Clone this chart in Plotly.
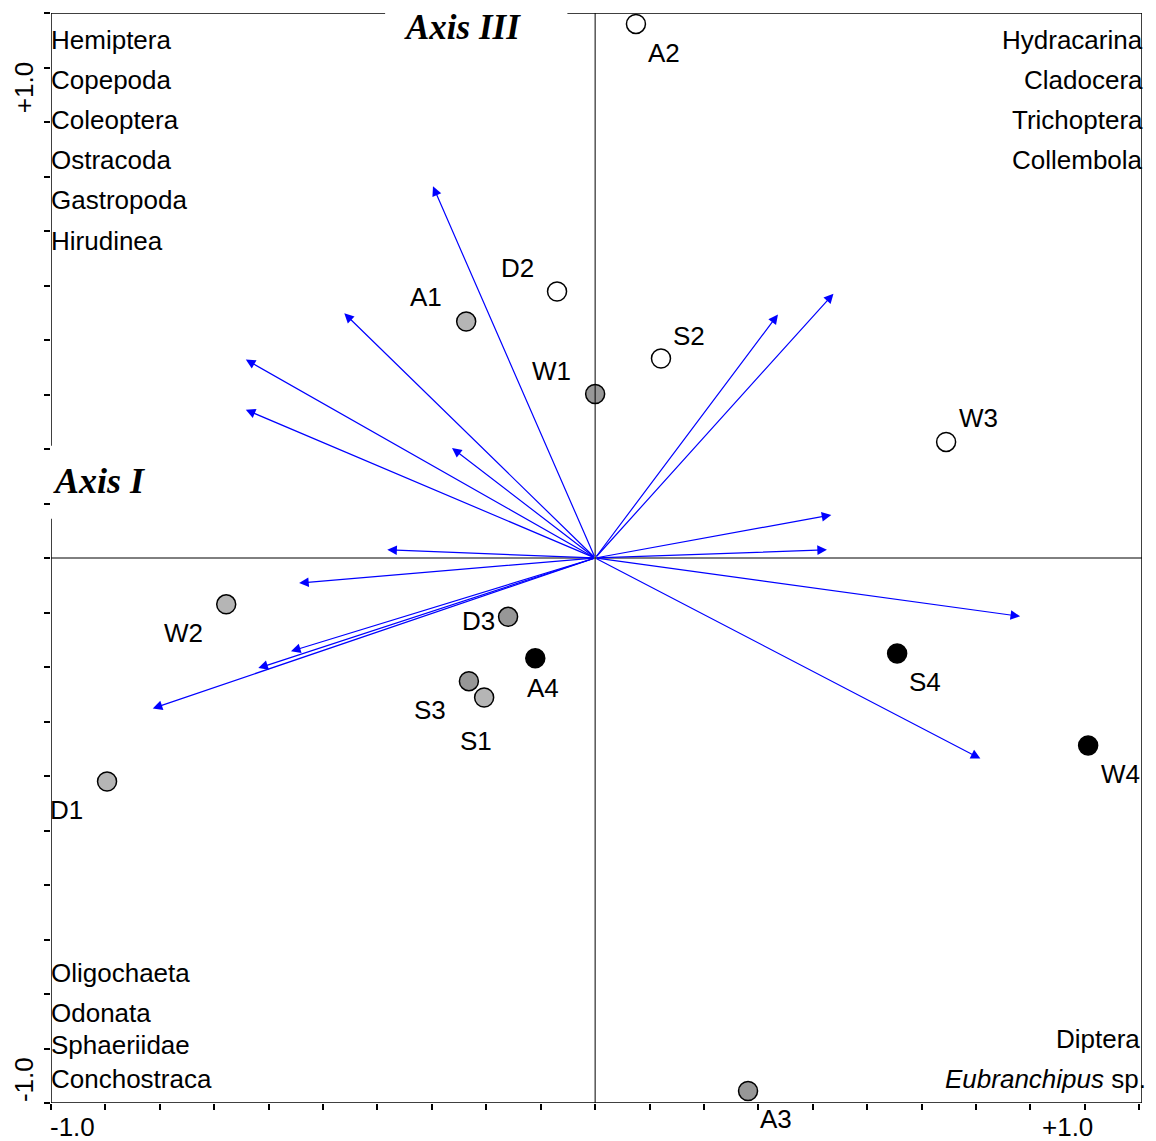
import plotly.graph_objects as go

# ---------------- data ----------------
site_names = ["A2", "D2", "A1", "S2", "W1", "W3", "W2", "D3", "A4", "S3", "S1", "S4", "W4", "D1", "A3"]
site_x = [0.075, -0.070, -0.237, 0.121, 0.000, 0.645, -0.678, -0.160, -0.110, -0.232, -0.204, 0.555, 0.906, -0.897, 0.281]
site_y = [0.980, 0.489, 0.434, 0.366, 0.301, 0.213, -0.085, -0.108, -0.184, -0.226, -0.256, -0.175, -0.344, -0.410, -0.978]
site_type = ["open", "open", "gray", "open", "hatch", "open", "gray", "hatch", "black", "hatch", "gray", "black", "black", "gray", "hatch"]

arrow_x = [-0.298, -0.461, -0.642, -0.642, -0.263, -0.382, -0.544, -0.559, -0.619, -0.813,
           0.336, 0.438, 0.434, 0.426, 0.781, 0.708]
arrow_y = [0.682, 0.449, 0.364, 0.272, 0.202, 0.015, -0.046, -0.171, -0.202, -0.276,
           0.447, 0.485, 0.079, 0.015, -0.107, -0.368]

species_top_left = ["Hemiptera", "Copepoda", "Coleoptera", "Ostracoda", "Gastropoda", "Hirudinea"]
species_top_right = ["Hydracarina", "Cladocera", "Trichoptera", "Collembola"]
species_bottom_left = ["Oligochaeta", "Odonata", "Sphaeriidae", "Conchostraca"]
species_bottom_right = ["Diptera", "<i>Eubranchipus</i> sp."]

x_tick_vals = [round(-1.0 + 0.1 * i, 1) for i in range(21)]
y_tick_vals = [round(-1.0 + 0.1 * i, 1) for i in range(21)]

# ---------------- styles ----------------
FONT = "Arial, Liberation Sans, sans-serif"
SERIF = "Times New Roman, Liberation Serif, serif"
FS = 26
fill = {"open": "white", "gray": "#b5b5b5", "hatch": "#979797", "black": "black"}
label_offset = {  # pixel offsets of site labels
    "A2": (28, -29), "D2": (-40, 24), "A1": (-40, 24), "S2": (28, 23), "W1": (-44, 23),
    "W3": (32, 24), "W2": (-43, -29), "D3": (-30, -4), "A4": (8, -30), "S3": (-39, -29),
    "S1": (-8, -43), "S4": (28, -29), "W4": (32, -29), "D1": (-41, -29), "A3": (28, -28),
}

fig = go.Figure()

# axis cross lines
fig.add_shape(type="line", x0=-1.0, x1=1.005, y0=0, y1=0, line=dict(color="black", width=1))
fig.add_shape(type="line", x0=0, x1=0, y0=-1.0, y1=1.0, line=dict(color="black", width=1))

# frame with gaps for axis titles
frame = dict(color="black", width=1.5)
fig.add_shape(type="line", x0=-1.0, x1=-0.386, y0=1.0, y1=1.0, line=frame)
fig.add_shape(type="line", x0=-0.051, x1=1.005, y0=1.0, y1=1.0, line=frame)
fig.add_shape(type="line", x0=-1.0, x1=-1.0, y0=1.0, y1=0.206, line=frame)
fig.add_shape(type="line", x0=-1.0, x1=-1.0, y0=0.072, y1=-1.0, line=frame)
fig.add_shape(type="line", x0=1.005, x1=1.005, y0=1.0, y1=-1.0, line=frame)
fig.add_shape(type="line", x0=-1.0, x1=1.005, y0=-1.0, y1=-1.0, line=frame)

# species arrows
for ax_, ay_ in zip(arrow_x, arrow_y):
    fig.add_annotation(x=ax_, y=ay_, ax=0, ay=0, xref="x", yref="y", axref="x", ayref="y",
                       showarrow=True, arrowhead=2, arrowsize=1.6, arrowwidth=1.2,
                       arrowcolor="#0000ff", text="")

# sites
for t in ["open", "gray", "hatch", "black"]:
    idx = [i for i, s in enumerate(site_type) if s == t]
    fig.add_trace(go.Scatter(
        x=[site_x[i] for i in idx], y=[site_y[i] for i in idx], mode="markers",
        marker=dict(size=19, color=fill[t], line=dict(color="black", width=1.5)),
        showlegend=False, cliponaxis=False, hoverinfo="skip"))

for n, x, y in zip(site_names, site_x, site_y):
    dx, dy = label_offset[n]
    fig.add_annotation(x=x, y=y, text=n, showarrow=False, xshift=dx, yshift=dy,
                       font=dict(family=FONT, size=FS, color="black"))

# species labels in corners
lh = 0.0735
for i, s in enumerate(species_top_left):
    fig.add_annotation(x=-1.0, y=0.950 - i * lh, text=s, showarrow=False, xanchor="left",
                       xshift=-2, font=dict(family=FONT, size=FS, color="black"))
for i, s in enumerate(species_top_right):
    fig.add_annotation(x=1.005, y=0.950 - i * lh, text=s, showarrow=False, xanchor="right",
                       xshift=3, font=dict(family=FONT, size=FS, color="black"))
for s, y in zip(species_bottom_left, [-0.761, -0.835, -0.893, -0.956]):
    fig.add_annotation(x=-1.0, y=y, text=s, showarrow=False, xanchor="left",
                       xshift=-2, font=dict(family=FONT, size=FS, color="black"))
for s, y, xs in zip(species_bottom_right, [-0.882, -0.956], [0, 6]):
    fig.add_annotation(x=1.005, y=y, text=s, showarrow=False, xanchor="right",
                       xshift=xs, font=dict(family=FONT, size=FS, color="black"))

# axis titles
fig.add_annotation(x=-0.243, y=1.0, text="<b><i>Axis III</i></b>", showarrow=False,
                   yshift=-14, font=dict(family=SERIF, size=35, color="black"))
fig.add_annotation(x=-1.0, y=0.142, text="<b><i>Axis I</i></b>", showarrow=False,
                   xanchor="left", font=dict(family=SERIF, size=36, color="black"))

# tick value labels
tick_font = dict(family=FONT, size=FS, color="black")
fig.add_annotation(x=-0.96, y=-1.0, text="-1.0", showarrow=False, yanchor="top", yshift=-7, font=tick_font)
fig.add_annotation(x=0.868, y=-1.0, text="+1.0", showarrow=False, yanchor="top", yshift=-7, font=tick_font)
fig.add_annotation(x=-1.0, y=0.862, text="+1.0", showarrow=False, textangle=-90, xshift=-27, font=tick_font)
fig.add_annotation(x=-1.0, y=-0.958, text="-1.0", showarrow=False, textangle=-90, xshift=-27, font=tick_font)

fig.update_xaxes(range=[-1.0, 1.005], showgrid=False, zeroline=False, showline=False,
                 tickmode="array", tickvals=x_tick_vals, showticklabels=False,
                 ticks="outside", ticklen=6, tickwidth=1.5, tickcolor="black")
fig.update_yaxes(range=[-1.0, 1.0], showgrid=False, zeroline=False, showline=False,
                 tickmode="array", tickvals=y_tick_vals, showticklabels=False,
                 ticks="outside", ticklen=6, tickwidth=1.5, tickcolor="black")

# page body has an 8px margin; compensate so the plot lands where the reference has it
fig.update_layout(width=1140, height=1133, margin=dict(l=43, r=6, t=5, b=38),
                  plot_bgcolor="white", paper_bgcolor="white", showlegend=False)

fig.write_html("out.html")
